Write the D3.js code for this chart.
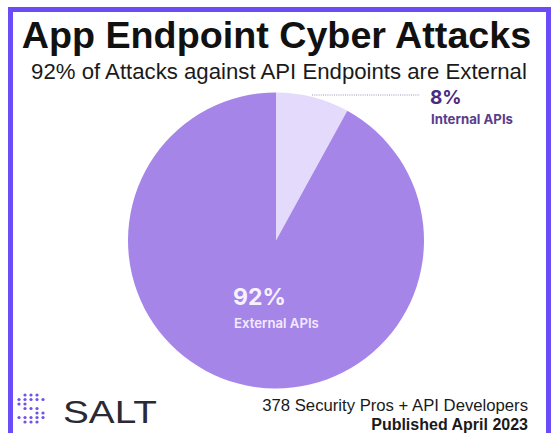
<!DOCTYPE html>
<html>
<head>
<meta charset="utf-8">
<script src="https://cdn.jsdelivr.net/npm/d3@7"></script>
<style>
  body { margin: 0; background: #fff; }
  svg { display: block; font-family: "Liberation Sans", Arial, sans-serif; }
</style>
</head>
<body>
<svg id="chart" width="552" height="433"></svg>
<script>
// data
const categories = ["Internal APIs", "External APIs"];
const values = [8, 92];
const valueLabels = ["8%", "92%"];
const title = "App Endpoint Cyber Attacks";
const subtitle = "92% of Attacks against API Endpoints are External";
const footnote = ["378 Security Pros + API Developers", "Published April 2023"];

const svg = d3.select("#chart");
const colors = d3.scaleOrdinal().domain(categories).range(["#e4dafb", "#a685e9"]);

// purple frame (left, top, right)
svg.append("path")
    .attr("d", "M10.5,433 V9.5 H548.5 V433")
    .attr("fill", "none")
    .attr("stroke", "#6b4cf6")
    .attr("stroke-width", 5);

svg.append("text")
    .attr("x", 276.5).attr("y", 48)
    .attr("text-anchor", "middle")
    .attr("font-size", 37.7).attr("font-weight", "bold")
    .attr("fill", "#111")
    .text(title);

svg.append("text")
    .attr("x", 279).attr("y", 79)
    .attr("text-anchor", "middle")
    .attr("font-size", 22.2)
    .attr("fill", "#1a1a1a")
    .text(subtitle);

// pie
const cx = 276, cy = 240.5, r = 148;
const pie = d3.pie().sort(null).value(d => d.value);
const arcs = pie(categories.map((c, i) => ({ cat: c, value: values[i] })));
const arc = d3.arc().innerRadius(0).outerRadius(r);

const g = svg.append("g").attr("transform", `translate(${cx},${cy})`);
g.selectAll("path")
    .data(arcs)
    .join("path")
    .attr("d", arc)
    .attr("fill", d => colors(d.data.cat));

// leader line for the small slice
svg.append("line")
    .attr("x1", 312).attr("y1", 95)
    .attr("x2", 420).attr("y2", 95)
    .attr("stroke", "#9c93b8")
    .attr("stroke-width", 1.2)
    .attr("stroke-dasharray", "1,1.2");

const labelFont = "Inter, 'Noto Sans', sans-serif";

svg.append("text")
    .attr("x", 430).attr("y", 104)
    .attr("font-family", labelFont)
    .attr("font-size", 19).attr("font-weight", "bold")
    .attr("fill", "#4b2a7e")
    .text(valueLabels[0]);
svg.append("text")
    .attr("x", 431).attr("y", 124)
    .attr("font-family", labelFont)
    .attr("font-size", 13.2).attr("font-weight", "bold")
    .attr("fill", "#5a3d8c")
    .text(categories[0]);

svg.append("text")
    .attr("x", 233).attr("y", 305)
    .attr("font-family", labelFont)
    .attr("font-size", 23).attr("font-weight", "bold")
    .attr("fill", "#f7f2ff")
    .text(valueLabels[1]);
svg.append("text")
    .attr("x", 234).attr("y", 328)
    .attr("font-family", labelFont)
    .attr("font-size", 13.2).attr("font-weight", "600")
    .attr("fill", "#f2eaff")
    .text(categories[1]);

// SALT logo: dotted mark + wordmark
const dots = [
    ".XXX.",
    "XXXXX",
    "XX...",
    ".XXX.",
    "...XX",
    "XXXXX",
    ".XXX."
];
const logo = svg.append("g").attr("transform", "translate(19,395)");
dots.forEach((row, j) => {
    row.split("").forEach((ch, i) => {
        if (ch === "X") {
            logo.append("circle")
                .attr("cx", i * 6).attr("cy", j * 4.5)
                .attr("r", 1.6)
                .attr("fill", "#6f52e8");
        }
    });
});

svg.append("text")
    .attr("x", 63).attr("y", 423)
    .attr("font-size", 32)
    .attr("textLength", 94)
    .attr("lengthAdjust", "spacingAndGlyphs")
    .attr("fill", "#2a2a36")
    .text("SALT");

svg.append("text")
    .attr("x", 528).attr("y", 411)
    .attr("text-anchor", "end")
    .attr("font-size", 16.7)
    .attr("fill", "#1a1a1a")
    .text(footnote[0]);
svg.append("text")
    .attr("x", 528).attr("y", 430)
    .attr("text-anchor", "end")
    .attr("font-size", 16).attr("font-weight", "bold")
    .attr("fill", "#1a1a1a")
    .text(footnote[1]);
</script>
</body>
</html>
